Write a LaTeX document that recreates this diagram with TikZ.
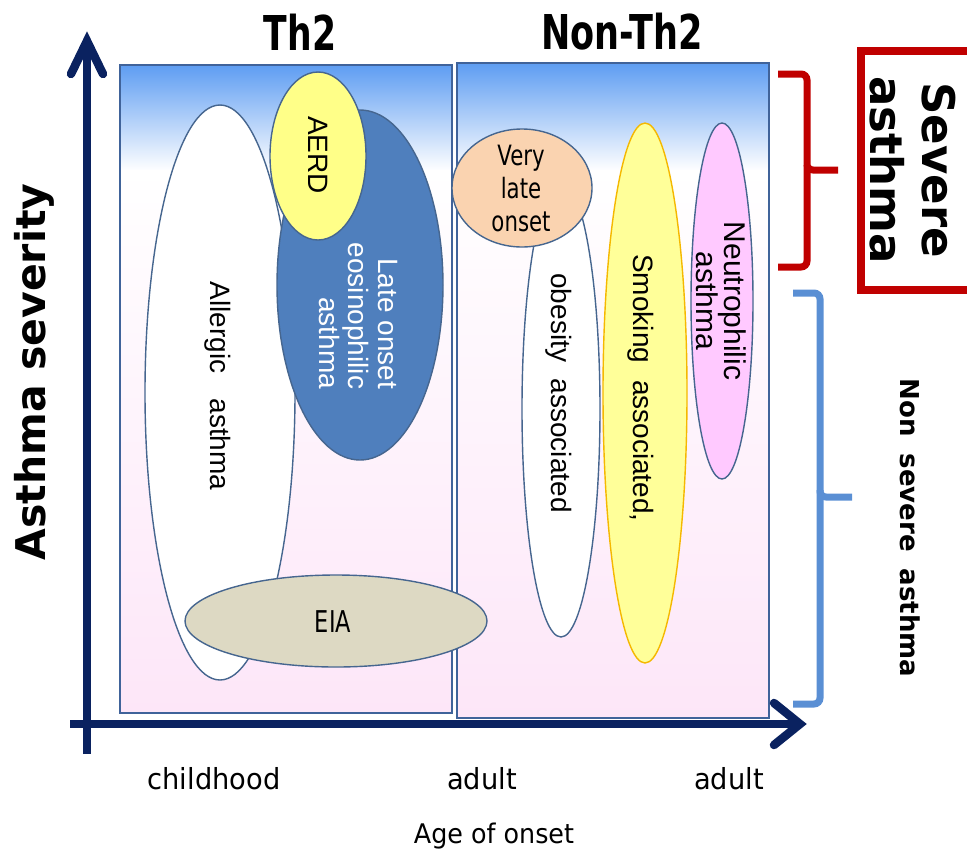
\documentclass[tikz,border=0pt]{standalone}
\usepackage{fontspec}
\setmainfont{DejaVu Sans}
\newfontfamily\arialfont{Liberation Sans}
\usepackage{graphicx}
\usetikzlibrary{calc}

\definecolor{axisnavy}{HTML}{0A2260}
\definecolor{boxline}{HTML}{40639A}
\definecolor{ellline}{HTML}{46668F}
\definecolor{skyblue}{HTML}{5E9DF2}
\definecolor{paleblue}{HTML}{B4D3F8}
\definecolor{blush}{HTML}{FDE6F8}
\definecolor{eosblue}{HTML}{4F7FBD}
\definecolor{aerdyellow}{HTML}{FFFF88}
\definecolor{smokeyellow}{HTML}{FFFF99}
\definecolor{smokeedge}{HTML}{F5B800}
\definecolor{neutropink}{HTML}{FFC9FF}
\definecolor{peach}{HTML}{FAD3B0}
\definecolor{khaki}{HTML}{DDD9C3}
\definecolor{severered}{HTML}{C00000}
\definecolor{braceblue}{HTML}{5A8FD4}

% font size helper and horizontal squeeze helper
\newcommand{\fsz}[1]{\fontsize{#1}{#1}\selectfont}
\newcommand{\hsq}[2]{\scalebox{#1}[1]{#2}}

\begin{document}
\begin{tikzpicture}[x=1pt,y=-1pt,
  panel/.style={draw=boxline, line width=1.8pt},
  blob/.style={draw=ellline, line width=1.4pt},
  axisline/.style={draw=axisnavy, line width=8.5pt},
  axishead/.style={draw=axisnavy, line width=8.5pt, line cap=round, line join=miter},
  bracepath/.style={line width=7pt, rounded corners=6pt},
  lbl/.style={inner sep=0pt, align=center},
]
\useasboundingbox (0,0) rectangle (967,852);
\clip (0,0) rectangle (967,852);

% ---- Th2 panel ----
\shade[top color=skyblue, middle color=paleblue, bottom color=white] (120,65) rectangle (452,171);
\shade[top color=white, bottom color=blush] (120,170) rectangle (452,713);
\draw[panel] (120,65) rectangle (452,713);

% ---- Non-Th2 panel ----
\shade[top color=skyblue, middle color=paleblue, bottom color=white] (457,63) rectangle (769,171);
\shade[top color=white, bottom color=blush] (457,170) rectangle (769,718);
\draw[panel] (457,63) rectangle (769,718);

% ---- Th2 phenotypes ----
\draw[blob, fill=white] (220,392.5) ellipse [x radius=75pt, y radius=287.5pt];
\draw[blob, fill=eosblue] (360,285) ellipse [x radius=83pt, y radius=175pt];
\draw[blob, fill=aerdyellow] (318,156) ellipse [x radius=48pt, y radius=84pt];
\draw[blob, fill=khaki] (336,621) ellipse [x radius=151pt, y radius=46pt];

% ---- Non-Th2 phenotypes ----
\draw[blob, fill=white] (561,409) ellipse [x radius=39pt, y radius=228pt];
\draw[blob, fill=peach] (522,188) ellipse [x radius=70pt, y radius=59pt];
\draw[line width=1.4pt, draw=smokeedge, fill=smokeyellow] (645,393) ellipse [x radius=42pt, y radius=270pt];
\draw[blob, fill=neutropink] (722,301) ellipse [x radius=31pt, y radius=178pt];

% ---- axes ----
\coordinate (yfoot) at (87,754);
\coordinate (ytop) at (87,41);
\coordinate (xfoot) at (70,724);
\coordinate (xend) at (800,724);
\draw[axisline] (yfoot) -- ($(ytop)+(0,4)$);
\draw[axishead] (71,74) -- (ytop) -- (103,74);
\draw[axisline] (xfoot) -- ($(xend)+(-4,0)$);
\draw[axishead] (774,703) -- (xend) -- (774,745);

% ---- braces ----
\draw[bracepath, severered] (778,74) -- (807,74) -- (807,170) -- (838,170);
\draw[bracepath, severered] (807,165) -- (807,267) -- (778,267);
\draw[bracepath, braceblue] (793,293) -- (820,293) -- (820,497) -- (852,497);
\draw[bracepath, braceblue] (820,490) -- (820,704) -- (793,704);
\draw[severered, line width=8pt] (861,51) rectangle (995,290);

% ---- titles and axis labels ----
\node[lbl] (th2) at (300,32) {\bfseries\fsz{48}\hsq{0.72}{Th2}};
\node[lbl] (nonth2) at (622,32) {\bfseries\fsz{48}\hsq{0.73}{Non-Th2}};
\node[lbl, rotate=90] (severity) at (34,372) {\bfseries\fsz{41}Asthma severity};
\node[lbl] (child) at (214,779) {\fsz{29}\hsq{0.94}{childhood}};
\node[lbl] (adultA) at (482,779) {\fsz{29}\hsq{0.94}{adult}};
\node[lbl] (adultB) at (729,779) {\fsz{29}\hsq{0.94}{adult}};
\node[lbl] (onset) at (494,836) {\fsz{27}\hsq{0.94}{Age of onset}};
\node[lbl, rotate=-90, font=\bfseries\fontsize{45}{52}\selectfont] (severe) at (913,170) {Severe\\asthma};
\node[lbl, rotate=-90] (nonsevere) at (910,528) {\bfseries\fsz{26}Non\hspace{0.3em} severe\hspace{0.3em} asthma};

% ---- phenotype labels ----
\node[lbl, rotate=-90] (allergicL) at (218,386) {\arialfont\fsz{28}Allergic\hspace{0.9em}asthma};
\node[lbl, rotate=-90] (aerdL) at (318,155) {\arialfont\fsz{28}AERD};
\node[lbl, rotate=-90, align=right, text=white, font=\arialfont\fontsize{28}{29.5}\selectfont]
  (eosL) at (358,316) {Late onset\\eosinophilic\\asthma};
\node[lbl] (eiaL) at (333,622) {\fsz{30}\hsq{0.75}{EIA}};
\node[lbl, font=\fontsize{28}{33}\selectfont] (veryL) at (521,188)
  {\hsq{0.76}{Very}\\\hsq{0.76}{late}\\\hsq{0.76}{onset}};
\node[lbl, rotate=-90] (obesityL) at (559,393) {\arialfont\fsz{28}obesity\hspace{0.6em}associated};
\node[lbl, rotate=-90] (smokingL) at (641,388) {\arialfont\fsz{28}Smoking\hspace{0.6em}associated,};
\node[lbl, rotate=-90, font=\arialfont\fontsize{30}{28}\selectfont] (neutroL) at (721,301)
  {Neutrophilic\\asthma};
\end{tikzpicture}
\end{document}
